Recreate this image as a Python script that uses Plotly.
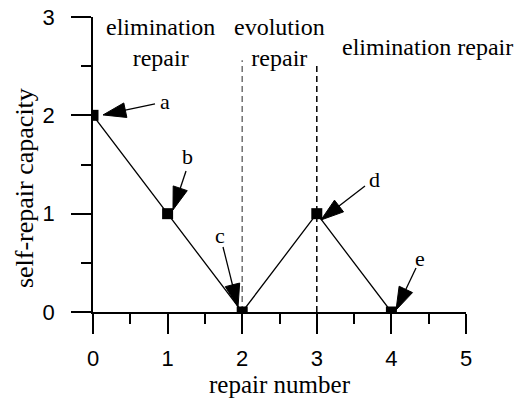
import plotly.graph_objects as go

# data
repair_number = [0, 1, 2, 3, 4]
capacity = [2, 1, 0, 1, 0]

# point labels and their arrows (label position, arrow tail, arrow tip)
point_labels = ["a", "b", "c", "d", "e"]
label_x = [0.965, 1.260, 1.702, 3.780, 4.383]
label_y = [2.136, 1.577, 0.783, 1.343, 0.549]
tail_x = [0.831, 1.247, 1.743, 3.646, 4.330]
tail_y = [2.116, 1.434, 0.661, 1.282, 0.448]
tip_x = [0.134, 1.072, 1.944, 3.056, 4.062]
tip_y = [2.004, 1.038, 0.051, 0.936, 0.020]

# stage boundaries and stage names
boundary_x = [2, 3]
boundary_top = [2.56, 2.54]
boundary_color = ["#707070", "#000000"]
stage_names = ["elimination<br>repair", "evolution<br>repair", "elimination repair"]
stage_x = [0.9, 2.5, 4.49]
stage_y = [2.74, 2.74, 2.70]

x_ticks = [0, 1, 2, 3, 4, 5]
y_ticks = [0, 1, 2, 3]
x_title = "repair number"
y_title = "self-repair capacity"

SERIF = "Liberation Serif"
SANS = "Liberation Sans"

fig = go.Figure()

fig.add_trace(go.Scatter(
    x=repair_number, y=capacity, mode="lines+markers",
    line=dict(color="black", width=1.3),
    marker=dict(symbol="square", size=11, color="black"),
    cliponaxis=True, showlegend=False, hoverinfo="skip",
))

for i in range(len(point_labels)):
    fig.add_trace(go.Scatter(
        x=[tail_x[i], tip_x[i]], y=[tail_y[i], tip_y[i]],
        mode="lines+markers",
        line=dict(color="black", width=1.3),
        marker=dict(symbol=["circle", "arrow"], size=[0, 24], color="black", opacity=1,
                    angleref="previous", line=dict(width=1, color="black")),
        cliponaxis=True, showlegend=False, hoverinfo="skip",
    ))
    fig.add_annotation(x=label_x[i], y=label_y[i], text=point_labels[i],
                       showarrow=False, font=dict(family=SERIF, size=22, color="black"))

for bx, bt, bc in zip(boundary_x, boundary_top, boundary_color):
    fig.add_shape(type="line", x0=bx, x1=bx, y0=0, y1=bt, xref="x", yref="y",
                  line=dict(color=bc, width=1.5, dash="6px,4px"), layer="below")

for name, sx, sy in zip(stage_names, stage_x, stage_y):
    fig.add_annotation(x=sx, y=sy, text=name, showarrow=False, xref="x", yref="y",
                       font=dict(family=SERIF, size=24, color="black"))

# y-axis title (placed slightly below centre, as in the original)
fig.add_annotation(x=-0.185, y=1.26, xref="paper", yref="y", text=y_title,
                   textangle=-90, showarrow=False, xanchor="center", yanchor="middle",
                   font=dict(family=SERIF, size=26, color="black"))

fig.update_xaxes(
    range=[0, 5], tickvals=x_ticks, ticks="outside", ticklen=20, tickwidth=1.5,
    tickcolor="black", showline=True, linecolor="black", linewidth=1.5,
    showgrid=False, zeroline=False, ticklabelstandoff=6, automargin=False,
    minor=dict(dtick=0.5, ticks="outside", ticklen=10, tickwidth=1.5, tickcolor="black"),
    tickfont=dict(family=SANS, size=22, color="black"),
    title=dict(text=x_title, font=dict(family=SERIF, size=25, color="black"), standoff=2),
)
fig.update_yaxes(
    range=[0, 3], tickvals=y_ticks, ticks="outside", ticklen=20, tickwidth=1.5,
    tickcolor="black", showline=True, linecolor="black", linewidth=1.5,
    showgrid=False, zeroline=False, ticklabelstandoff=12, automargin=False,
    minor=dict(dtick=0.5, ticks="outside", ticklen=10, tickwidth=1.5, tickcolor="black"),
    tickfont=dict(family=SANS, size=22, color="black"),
)

fig.update_layout(
    width=528, height=399,
    margin=dict(l=93, r=62, t=17, b=87),
    plot_bgcolor="white", paper_bgcolor="white",
    showlegend=False, hovermode=False,
)

fig.write_html("out.html", config={"displayModeBar": False},
               post_script="document.body.style.margin='0';")
